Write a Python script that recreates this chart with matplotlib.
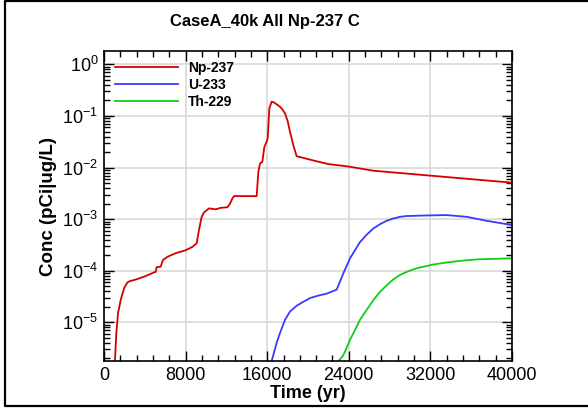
import numpy as np
import matplotlib
matplotlib.use('Agg')
from matplotlib import pyplot as plt
from matplotlib.ticker import MultipleLocator, LogLocator, NullFormatter
from matplotlib.lines import Line2D

plt.rcParams['font.family'] = ['Liberation Sans', 'DejaVu Sans']
plt.rcParams['mathtext.fontset'] = 'custom'
plt.rcParams['mathtext.rm'] = 'Liberation Sans'

# Np-237 concentration
np237_t = [1078, 1209, 1307, 1373, 1503, 1634, 1863, 1993, 2124, 2288, 2451, 3268, 4085,
           4902, 5065, 5163, 5556, 5784, 6209, 7026, 8007, 8660, 9085, 9314, 9575, 9804,
           10294, 10948, 11438, 12092, 12353, 12582, 12745, 13170, 14967, 15131, 15294,
           15523, 15719, 15948, 16046, 16209, 16438, 16601, 16765, 17255, 17484, 17745,
           18006, 18235, 18398, 18562, 18889, 20686, 22000, 23950, 26400, 32290, 40000]
np237_c = [1.86e-6, 6.2e-6, 1.03e-5, 1.5e-5, 2.0e-5, 2.7e-5, 3.9e-5, 4.7e-5, 5.2e-5,
           5.9e-5, 6.2e-5, 6.9e-5, 7.9e-5, 9.3e-5, 9.5e-5, 1.17e-4, 1.2e-4, 1.62e-4,
           1.86e-4, 2.19e-4, 2.5e-4, 2.9e-4, 3.4e-4, 6.2e-4, 1.11e-3, 1.35e-3, 1.62e-3,
           1.55e-3, 1.66e-3, 1.7e-3, 2.0e-3, 2.5e-3, 2.8e-3, 2.8e-3, 2.8e-3, 8.2e-3,
           1.2e-2, 1.29e-2, 2.5e-2, 3.2e-2, 3.7e-2, 0.141, 0.19, 0.185, 0.178, 0.151,
           0.135, 0.112, 0.080, 0.049, 0.037, 0.027, 0.0166, 0.0135, 0.0117, 0.0105,
           0.0087, 0.0069, 0.0051]

# U-233
u233_t = [16438, 16928, 17255, 17745, 18235, 18889, 19542, 20196, 21013, 21830, 22810,
          23464, 24118, 25098, 25752, 26405, 27059, 27712, 28366, 29019, 29673, 31634,
          33595, 35556, 37517, 40000]
u233_c = [1.78e-6, 4.0e-6, 6.2e-6, 1.12e-5, 1.62e-5, 2.1e-5, 2.5e-5, 2.95e-5, 3.3e-5,
          3.6e-5, 4.3e-5, 8.9e-5, 1.74e-4, 3.6e-4, 5.0e-4, 6.6e-4, 8.0e-4, 9.3e-4,
          1.03e-3, 1.11e-3, 1.15e-3, 1.18e-3, 1.2e-3, 1.11e-3, 9.3e-4, 7.7e-4]

# Th-229
th229_t = [22973, 23399, 23627, 24118, 24608, 25098, 25752, 26405, 27059, 27712, 28366,
           29019, 29836, 30653, 32288, 33595, 34902, 36536, 38170, 40000]
th229_c = [1.78e-6, 2.2e-6, 2.7e-6, 4.6e-6, 7.1e-6, 1.12e-5, 1.74e-5, 2.7e-5, 3.9e-5,
           5.2e-5, 6.8e-5, 8.3e-5, 9.8e-5, 1.12e-4, 1.32e-4, 1.45e-4, 1.55e-4, 1.66e-4,
           1.7e-4, 1.74e-4]

x_ticks = [0, 8000, 16000, 24000, 32000, 40000]

fig = plt.figure(figsize=(5.88, 4.09), dpi=100)
ax = fig.add_axes([104 / 588, 48 / 409, 408 / 588, 310 / 409])

ax.plot(np237_t, np237_c, color='#d40000', lw=1.3, label='Np-237')
ax.plot(u233_t, u233_c, color='#3a3aff', lw=1.3, label='U-233')
ax.plot(th229_t, th229_c, color='#14cc14', lw=1.3, label='Th-229')

ax.set_yscale('log')
ax.set_xlim(0, 40000)
ax.set_ylim(1.78e-6, 1.82)
ax.set_xticks(x_ticks)
ax.set_xticklabels([str(v) for v in x_ticks])
ax.xaxis.set_minor_locator(MultipleLocator(1600))
ax.yaxis.set_major_locator(LogLocator(base=10, numticks=20))
ax.yaxis.set_minor_locator(LogLocator(base=10, subs=np.arange(2, 10), numticks=20))
ax.yaxis.set_minor_formatter(NullFormatter())

ax.grid(True, which='major', color='#d9d9d9', lw=1.2)
ax.set_axisbelow(True)
ax.tick_params(which='both', direction='in', top=True, right=True, labelsize=13, width=1)
ax.tick_params(which='major', length=7, pad=4)
ax.tick_params(which='minor', length=4)
for s in ax.spines.values():
    s.set_linewidth(1.2)

ax.set_xlabel('Time (yr)', fontsize=13, fontweight='bold', labelpad=1)
ax.set_ylabel('Conc (pCi|ug/L)', fontsize=13.5, fontweight='bold', labelpad=4)

ax.legend(loc='upper left', bbox_to_anchor=(11 / 408, 1 - 10 / 310), frameon=False,
          prop={'weight': 'bold', 'size': 10}, handlelength=4.5, handletextpad=0.75,
          labelspacing=0.2, borderpad=0, borderaxespad=0)

fig.text(265 / 588, 1 - 21.5 / 409, 'CaseA_40k All Np-237 C', ha='center', va='center',
         fontsize=12, fontweight='bold')

# outer frame (right side falls outside the picture)
x0, y0, y1 = 5 / 588, 3 / 409, 1 - 1 / 409
fig.add_artist(Line2D([1, x0, x0, 1], [y1, y1, y0, y0], transform=fig.transFigure,
                      color='black', lw=1.6))

fig.savefig('out.png', dpi=100)
